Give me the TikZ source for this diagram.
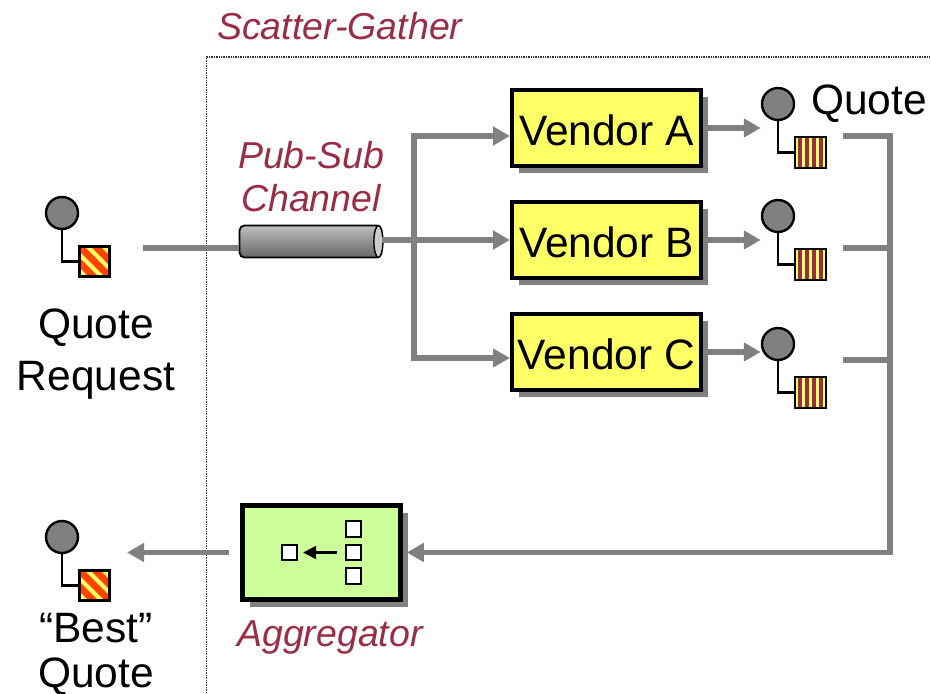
\documentclass[tikz,border=0pt]{standalone}
\usepackage{fontspec}
\setmainfont{Liberation Sans}
\usetikzlibrary{arrows.meta,shadows}

\definecolor{labelred}{RGB}{153,45,70}
\definecolor{flowgray}{RGB}{128,128,128}
\definecolor{vendoryellow}{RGB}{255,255,102}
\definecolor{aggrgreen}{RGB}{204,255,153}
\definecolor{msgred}{RGB}{255,68,0}

\tikzset{
    flow/.style={draw=flowgray,line width=5.5pt,-{Triangle[length=17pt,width=18pt]}},
    plainflow/.style={draw=flowgray,line width=5.5pt},
    msgcircle/.style={circle,draw=black,line width=2.4pt,fill=flowgray,minimum size=32pt,inner sep=0pt},
    wire/.style={draw=black,line width=2.2pt},
    reqmsg/.style={rectangle,draw=black,line width=3pt,fill=msgred,minimum size=30pt,inner sep=0pt,
        path picture={\foreach \d in {-24,-8,8,24}
            \draw[vendoryellow,line width=4pt] ([xshift=\d pt-20pt,yshift=20pt]path picture bounding box.center) -- ++(40pt,-40pt);}},
    quotemsg/.style={rectangle,draw=black,line width=2.4pt,fill=vendoryellow,minimum size=31pt,inner sep=0pt,
        path picture={\foreach \d in {-10.5,-3.5,3.5,10.5}
            \draw[labelred,line width=3.6pt] ([xshift=\d pt,yshift=20pt]path picture bounding box.center) -- ++(0,-40pt);}},
    boxshadow/.style={general shadow={fill=flowgray,shadow xshift=7pt,shadow yshift=-7pt}},
    vendor/.style={rectangle,draw=black,line width=4pt,fill=vendoryellow,minimum width=189pt,minimum height=76pt,
        inner sep=0pt,boxshadow,text height=34pt,text depth=0pt,font=\fontsize{42.5}{48}\selectfont},
    smallbox/.style={rectangle,draw=black,line width=1.8pt,fill=white,minimum size=15.5pt,inner sep=0pt},
    lbl/.style={font=\fontsize{42.5}{52}\selectfont,align=center,inner sep=0pt},
    redlbl/.style={text=labelred,font=\fontsize{37.5}{43}\selectfont\itshape,align=center}
}

% circle at (#2,#3), message square below it
\newcommand{\msgpoint}[4]{
    \node[msgcircle] (#1c) at (#2,#3) {};
    \node[#4] (#1s) at (#2+32.5,#3+48.5) {};
    \draw[wire] (#1c.south) |- (#1s.west);
}

\begin{document}
\begin{tikzpicture}[x=1pt,y=-1pt]
    \useasboundingbox (0,0) rectangle (931,693);
    % frame
    \coordinate (frameb) at (206.5,693);
    \coordinate (framec) at (206.5,57);
    \coordinate (framer) at (931,57);
    \draw[densely dotted,line width=1.4pt,black!80] (frameb) -- (framec) -- (framer);
    \node[redlbl,anchor=west,inner sep=0pt] (title) at (217,26) {Scatter-Gather};

    % boxes
    \node[vendor] (vendA) at (606.5,128) {Vendor A};
    \node[vendor] (vendB) at (606.5,240) {Vendor B};
    \node[vendor] (vendC) at (606.5,352) {Vendor C};
    \node[rectangle,draw=black,line width=4.5pt,fill=aggrgreen,minimum width=158pt,minimum height=94pt,boxshadow] (aggr) at (321.5,552.5) {};
    \node[smallbox] (aggr1) at (353.5,529) {};
    \node[smallbox] (aggr2) at (353.5,552.5) {};
    \node[smallbox] (aggr3) at (353.5,576) {};
    \node[smallbox] (aggr0) at (289.5,552.5) {};
    \draw[-{Triangle[length=13pt,width=13pt]},line width=2.4pt,black] ([xshift=-8pt]aggr2.west) -- ([xshift=5pt]aggr0.east);

    % endpoints
    \msgpoint{req}{62}{213}{reqmsg}
    \msgpoint{best}{62}{537}{reqmsg}
    \msgpoint{quoA}{778}{104}{quotemsg}
    \msgpoint{quoB}{778}{216}{quotemsg}
    \msgpoint{quoC}{778}{344}{quotemsg}

    % channel
    \coordinate (reqout) at (143,248);
    \node[rectangle,rounded corners=5pt,draw=black,line width=1.8pt,top color=black!25,bottom color=black!60,minimum width=142pt,minimum height=32pt,inner sep=0pt] (channel) at (310.5,241.5) {};
    \draw[plainflow] (reqout) -- (reqout -| channel.west);
    \draw[black,line width=1.4pt,fill=black!20] (channel.east)++(-4,0) ellipse (4.5pt and 16pt);

    % flows
    \coordinate (branch) at (414,240);
    \draw[plainflow] (channel.east |- branch) -- (branch);
    \draw[flow] (branch) |- ([yshift=-8pt]vendA.west);
    \draw[flow] (branch) -- (vendB.west);
    \draw[flow] (branch) |- ([yshift=-6pt]vendC.west);
    \draw[flow] (vendA.east) -- (vendA.east -| quoAc.west);
    \draw[flow] (vendB.east) -- (vendB.east -| quoBc.west);
    \draw[flow] (vendC.east) -- (vendC.east -| quoCc.west);
    \coordinate (outA) at (843,136);
    \coordinate (outB) at (843,248);
    \coordinate (outC) at (843,360);
    \coordinate (corner) at (890,552.5);
    \draw[flow] (outA) -| (corner) -- ([xshift=4pt]aggr.east);
    \draw[plainflow] (outB) -- (outB -| corner);
    \draw[plainflow] (outC) -- (outC -| corner);
    \coordinate (bestin) at (127,552.5);
    \draw[flow] ([xshift=-11pt]aggr.west) -- (bestin);

    % labels
    \node[redlbl] (chanlbl) at (311,177) {Pub-Sub\\Channel};
    \node[redlbl,anchor=west,inner sep=0pt] (aggrlbl) at (237,637) {Aggregator};
    \node[lbl,anchor=west] (quolbl) at (811,104) {Quote};
    \node[lbl] (reqlbl) at (96,354) {Quote\\Request};
    \node[lbl,font=\fontsize{42.5}{45}\selectfont] (bestlbl) at (96,654) {“Best”\\Quote};
\end{tikzpicture}
\end{document}
